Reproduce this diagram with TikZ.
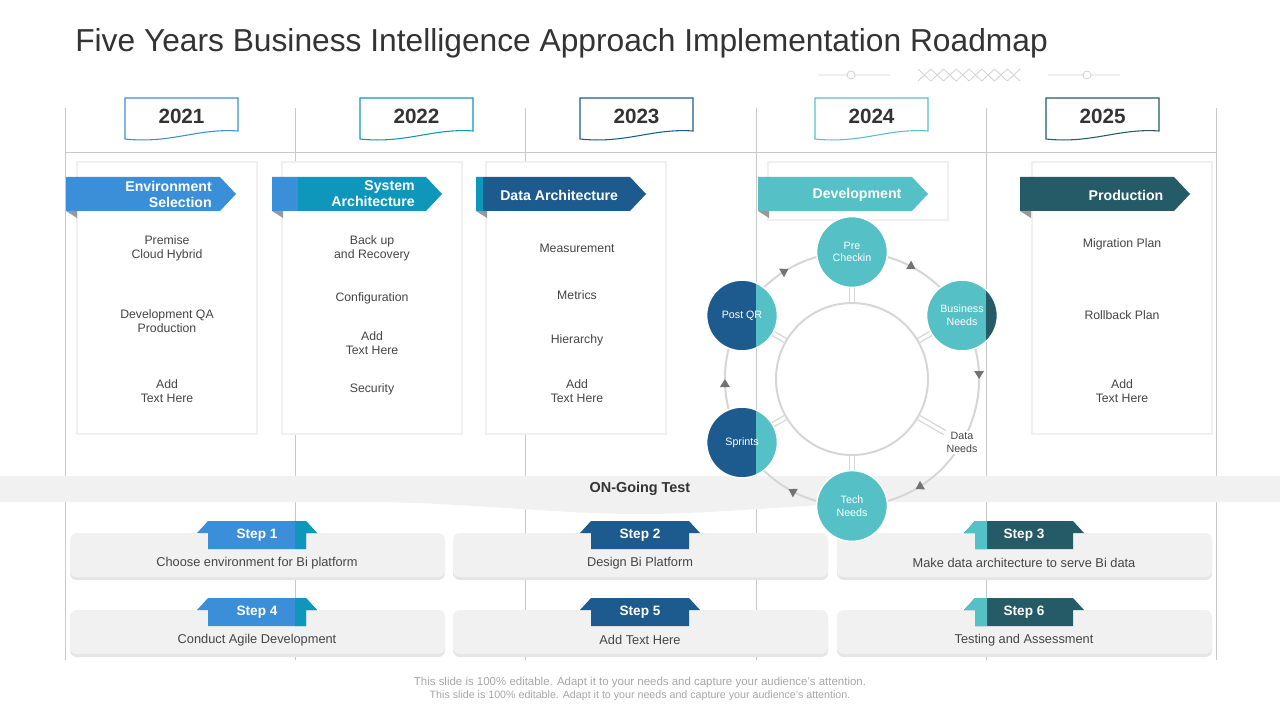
\documentclass[tikz,border=0pt]{standalone}
\usepackage{fontspec}
\setmainfont{Liberation Sans}
\usetikzlibrary{arrows.meta,calc,positioning,decorations.markings}

\definecolor{bluea}{HTML}{3A8FD8}
\definecolor{tealblue}{HTML}{0E97BB}
\definecolor{darkblue}{HTML}{1D5B8F}
\definecolor{aqua}{HTML}{55C1C7}
\definecolor{darkteal}{HTML}{245B67}
\definecolor{txtdark}{HTML}{333333}
\definecolor{txtgray}{HTML}{454545}
\definecolor{gridgray}{HTML}{C9C9C9}
\definecolor{boxgray}{HTML}{F1F1F1}
\definecolor{ringgray}{HTML}{D6D6D6}

\pgfdeclarelayer{front}
\pgfsetlayers{main,front}

\tikzstyle{grid}=[draw=gridgray,line width=0.6pt]
\tikzstyle{decor}=[draw=black!18,line width=0.6pt]
\tikzstyle{card}=[fill=white,draw=black!6,line width=1.6pt]
\tikzstyle{yeartxt}=[font=\fontsize{15.5}{18}\selectfont\bfseries,text=txtdark]
\tikzstyle{bantxt}=[font=\fontsize{10.6}{12}\selectfont\bfseries,text=white,inner sep=0pt]
\tikzstyle{itemtxt}=[font=\fontsize{9.2}{10.5}\selectfont,text=txtgray,align=center]
\tikzstyle{steptxt}=[font=\fontsize{9.6}{11}\selectfont,text=txtgray]
\tikzstyle{tabtxt}=[font=\fontsize{10.2}{12}\selectfont\bfseries,text=white]
\tikzstyle{cnode}=[circle,fill=aqua,draw=white,line width=1pt,minimum size=53pt,
                inner sep=0pt,text=white,align=center,font=\fontsize{8}{9.5}\selectfont]
\tikzstyle{spoke}=[draw=ringgray,double=white,double distance=2.4pt,line width=1pt]
\tikzstyle{ring}=[draw=ringgray,line width=1.5pt,bend left=30,looseness=0.92,
                postaction={decorate,decoration={markings,
                mark=at position 0.5 with {\arrow[black!55]{Triangle[length=6pt,width=7pt]}}}}]

\begin{document}
\begin{tikzpicture}[x=0.75pt,y=-0.75pt]
\useasboundingbox (0,0) rectangle (1280,720);

% % % % % % % % % % % % % % %

\node[anchor=west,font=\fontsize{23.8}{28}\selectfont,text=txtdark,inner sep=0pt] (title) at (75,43)
   {Five Years Business Intelligence Approach Implementation Roadmap};

\draw[decor] (818,75) -- (847,75) (855,75) -- (890,75) (851,75) circle (4);
\draw[decor] (1048,75) -- (1083,75) (1091,75) -- (1120,75) (1087,75) circle (4);
\foreach \i in {0,...,7} {
\draw[decor] (918+\i*12.75,69) -- ++(12.75,12) (918+\i*12.75,81) -- ++(12.75,-12);
}

\foreach \x in {65,295,525,756,986,1216} {
\draw[grid] (\x,108) -- (\x,660);
}
\draw[grid] (65,152) -- (1216,152);

% years
\foreach \x/\yr/\col [count=\i] in {125/2021/bluea,360/2022/tealblue,580/2023/darkblue,815/2024/aqua,1046/2025/darkteal} {
\draw[draw=\col,fill=white,line width=0.8pt] (\x,98) -- ++(113,0) -- ++(0,33)
   .. controls +(-40,-3) and +(45,5) .. (\x,139) -- cycle;
\node[yeartxt] (yr\i) at (\x+56.5,116) {\yr};
}

% cards
\foreach \x in {77,282,486,1032} {
\draw[card] (\x,162) rectangle ++(180,272);
}
\draw[card] (768,162) rectangle (948,220);

\foreach \x/\col in {66/bluea,272/tealblue,476/darkblue,758/aqua,1020/darkteal} {
\fill[\col] (\x,177) -- ++(154,0) -- ++(16,17) -- ++(-16,17) -- ++(-154,0) -- cycle;
\fill[black!40] (\x,211) -- ++(11,0) -- ++(0,7) -- cycle;
}
\fill[bluea] (272,177) rectangle (298,211);
\fill[tealblue] (476,177) rectangle (483,211);

\node[bantxt,anchor=east,align=right] (ban1) at (212,194) {Environment\\Selection};
\node[bantxt,anchor=east,align=right] (ban2) at (415,194) {System\\Architecture};
\node[bantxt,anchor=west] (ban3) at (500,195) {Data Architecture};
\node[bantxt] (ban4) at (857,195) {Development};
\node[bantxt] (ban5) at (1126,195) {Production};

\foreach \y/\txt [count=\i] in {248/{Premise\\Cloud Hybrid},321/{Development QA\\Production},391/{Add\\Text Here}} {
\node[itemtxt] (env\i) at (167,\y) {\txt};
}
\foreach \y/\txt [count=\i] in {248/{Back up\\and Recovery},298/Configuration,343/{Add\\Text Here},389/Security} {
\node[itemtxt] (sys\i) at (372,\y) {\txt};
}
\foreach \y/\txt [count=\i] in {248/Measurement,295/Metrics,340/Hierarchy,391/{Add\\Text Here}} {
\node[itemtxt] (dat\i) at (577,\y) {\txt};
}
\foreach \y/\txt [count=\i] in {244/Migration Plan,315/Rollback Plan,391/{Add\\Text Here}} {
\node[itemtxt] (prd\i) at (1122,\y) {\txt};
}

% ongoing band
\fill[boxgray] (0,476) -- (1280,476) -- (1280,502) -- (900,502)
   .. controls (800,504) and (720,514) .. (640,514)
   .. controls (560,514) and (480,504) .. (380,502) -- (0,502) -- cycle;
\node[font=\fontsize{10.8}{13}\selectfont\bfseries,text=txtdark] (ongo) at (640,489) {ON-Going Test};

% steps
\foreach \x in {70,453,837} {
\foreach \y in {533,610} {
\fill[black!10,rounded corners=5pt] (\x,\y+3) rectangle ++(375,44);
\fill[boxgray,rounded corners=5pt] (\x,\y) rectangle ++(375,44);
}
}
\foreach \cx/\ty/\col/\txt [count=\i] in {257/521/bluea/Choose environment  for Bi platform,
      640/521/darkblue/Design Bi Platform,1024/521/darkteal/Make data architecture to serve Bi data,
      257/598/bluea/Conduct Agile Development,640/598/darkblue/Add Text Here,
      1024/598/darkteal/Testing and Assessment} {
\fill[\col] (\cx-60,\ty+12) -- (\cx-49,\ty) -- (\cx+49,\ty) -- (\cx+60,\ty+12) -- (\cx+49,\ty+12)
   -- (\cx+49,\ty+28) -- (\cx-49,\ty+28) -- (\cx-49,\ty+12) -- cycle;
\node[steptxt] (stp\i) at (\cx,\ty+42) {\txt};
}
\foreach \ty in {521,598} {
\fill[tealblue] (295,\ty) -- (306,\ty) -- (317,\ty+12) -- (306,\ty+12) -- (306,\ty+28) -- (295,\ty+28) -- cycle;
\fill[aqua] (964,\ty+12) -- (975,\ty) -- (987,\ty) -- (987,\ty+28) -- (975,\ty+28) -- (975,\ty+12) -- cycle;
}
\foreach \cx/\ty/\n in {257/521/1,640/521/2,1024/521/3,257/598/4,640/598/5,1024/598/6} {
\node[tabtxt] (tab\n) at (\cx,\ty+14) {Step \n};
}

% cycle
\coordinate (cyc) at (852,379);
\begin{pgfonlayer}{front}
\node[circle,draw=ringgray,line width=1.5pt,minimum size=114pt] (inner) at (cyc) {};
\node[cnode] (pre) at ($(cyc)+(-90:127)$) {Pre\\Checkin};
\node[cnode,path picture={\fill[darkteal] ([xshift=18pt]path picture bounding box.north)
   rectangle (path picture bounding box.south east);}] (bus) at ($(cyc)+(-30:127)$) {Business\\Needs};
\node[fill=white,inner sep=1pt,text=txtgray,align=center,font=\fontsize{8}{9.5}\selectfont]
   (dneed) at ($(cyc)+(30:127)$) {Data\\Needs};
\node[cnode] (tech) at ($(cyc)+(90:127)$) {Tech\\Needs};
\node[cnode,path picture={\fill[darkblue] (path picture bounding box.north west)
   rectangle ([xshift=10.5pt]path picture bounding box.south);}] (spr) at ($(cyc)+(150:127)$) {Sprints};
\node[cnode,path picture={\fill[darkblue] (path picture bounding box.north west)
   rectangle ([xshift=10.5pt]path picture bounding box.south);}] (post) at ($(cyc)+(210:127)$) {Post QR};
\end{pgfonlayer}

\draw[spoke] (inner.90) -- (pre);
\draw[spoke] (inner.30) -- (bus);
\draw[spoke] (inner.-30) -- (dneed);
\draw[spoke] (inner.-90) -- (tech);
\draw[spoke] (inner.-150) -- (spr);
\draw[spoke] (inner.150) -- (post);

\draw[ring] (pre.center) to (bus.center);
\draw[ring] (bus.center) to (dneed.center);
\draw[ring] (dneed.center) to (tech.center);
\draw[ring] (tech.center) to (spr.center);
\draw[ring] (spr.center) to (post.center);
\draw[ring] (post.center) to (pre.center);

% footer
\node[font=\fontsize{8.6}{10}\selectfont,text=black!35,inner sep=1pt] (foot1) at (640,683)
   {This slide is 100\% editable. Adapt it to your needs and capture your audience's attention.};
\node[font=\fontsize{8}{9}\selectfont,text=black!35,inner sep=1pt] (foot2) at (640,696)
   {This slide is 100\% editable. Adapt it to your needs and capture your audience's attention.};

\end{tikzpicture}
\end{document}
